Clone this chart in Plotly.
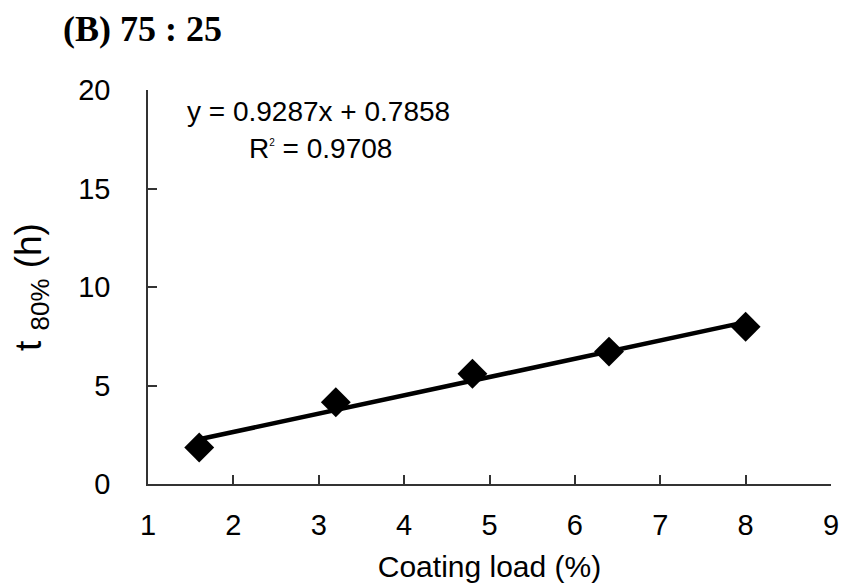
import plotly.graph_objects as go

coating_load = [1.6, 3.2, 4.8, 6.4, 8.0]
t80 = [1.85, 4.15, 5.6, 6.72, 7.98]
slope = 0.9287
intercept = 0.7858
r2 = 0.9708
x_ticks = [1, 2, 3, 4, 5, 6, 7, 8, 9]
y_ticks = [0, 5, 10, 15, 20]

trend_y = [slope * x + intercept for x in coating_load]

W, H = 843, 588
l, r, t, b = 148, 12, 90, 104
pw, ph = W - l - r, H - t - b


def px2paper(px, py):
    return (px - l) / pw, (H - b - py) / ph


fig = go.Figure()
fig.add_trace(go.Scatter(x=coating_load, y=trend_y, mode="lines",
                         line=dict(color="black", width=4.5), showlegend=False))
fig.add_trace(go.Scatter(x=coating_load, y=t80, mode="markers",
                         marker=dict(symbol="diamond", size=23, color="black"),
                         showlegend=False))

ax_common = dict(showgrid=False, zeroline=False, showline=True, linecolor="#333",
                 linewidth=1.5, ticks="inside", ticklen=9, tickcolor="#333",
                 tickwidth=1.5, tickfont=dict(size=29), automargin=False)

tx, ty = px2paper(61, 29)
ex, ey = px2paper(318, 111)
rx, ry = px2paper(320, 149)

fig.update_layout(
    width=W, height=H,
    margin=dict(l=l, r=r, t=t, b=b, autoexpand=False),
    paper_bgcolor="white", plot_bgcolor="white",
    font=dict(family="Liberation Sans, Arial", color="black"),
    xaxis=dict(range=[1, 9], tickvals=x_ticks, ticklabelstandoff=14,
               title=dict(text="Coating load (%)", font=dict(size=30), standoff=16),
               **ax_common),
    yaxis=dict(range=[0, 20], tickvals=y_ticks, ticklabelstandoff=30,
               title=dict(text="t <sub>80%</sub> (h)", font=dict(size=37), standoff=25),
               **ax_common),
    annotations=[
        dict(text="<b>(B) 75 : 25</b>", x=tx, y=ty, xref="paper", yref="paper",
             xanchor="left", yanchor="middle", showarrow=False,
             font=dict(family="Liberation Serif, Times New Roman", size=36)),
        dict(text=f"y = {slope}x + {intercept}", x=ex, y=ey, xref="paper", yref="paper",
             xanchor="center", yanchor="middle", showarrow=False, font=dict(size=28)),
        dict(text=f"R<sup><span style='font-size:10px'>2</span></sup> = {r2}",
             x=rx, y=ry, xref="paper", yref="paper",
             xanchor="center", yanchor="middle", showarrow=False, font=dict(size=28)),
    ],
)

fig.write_html("out.html")
